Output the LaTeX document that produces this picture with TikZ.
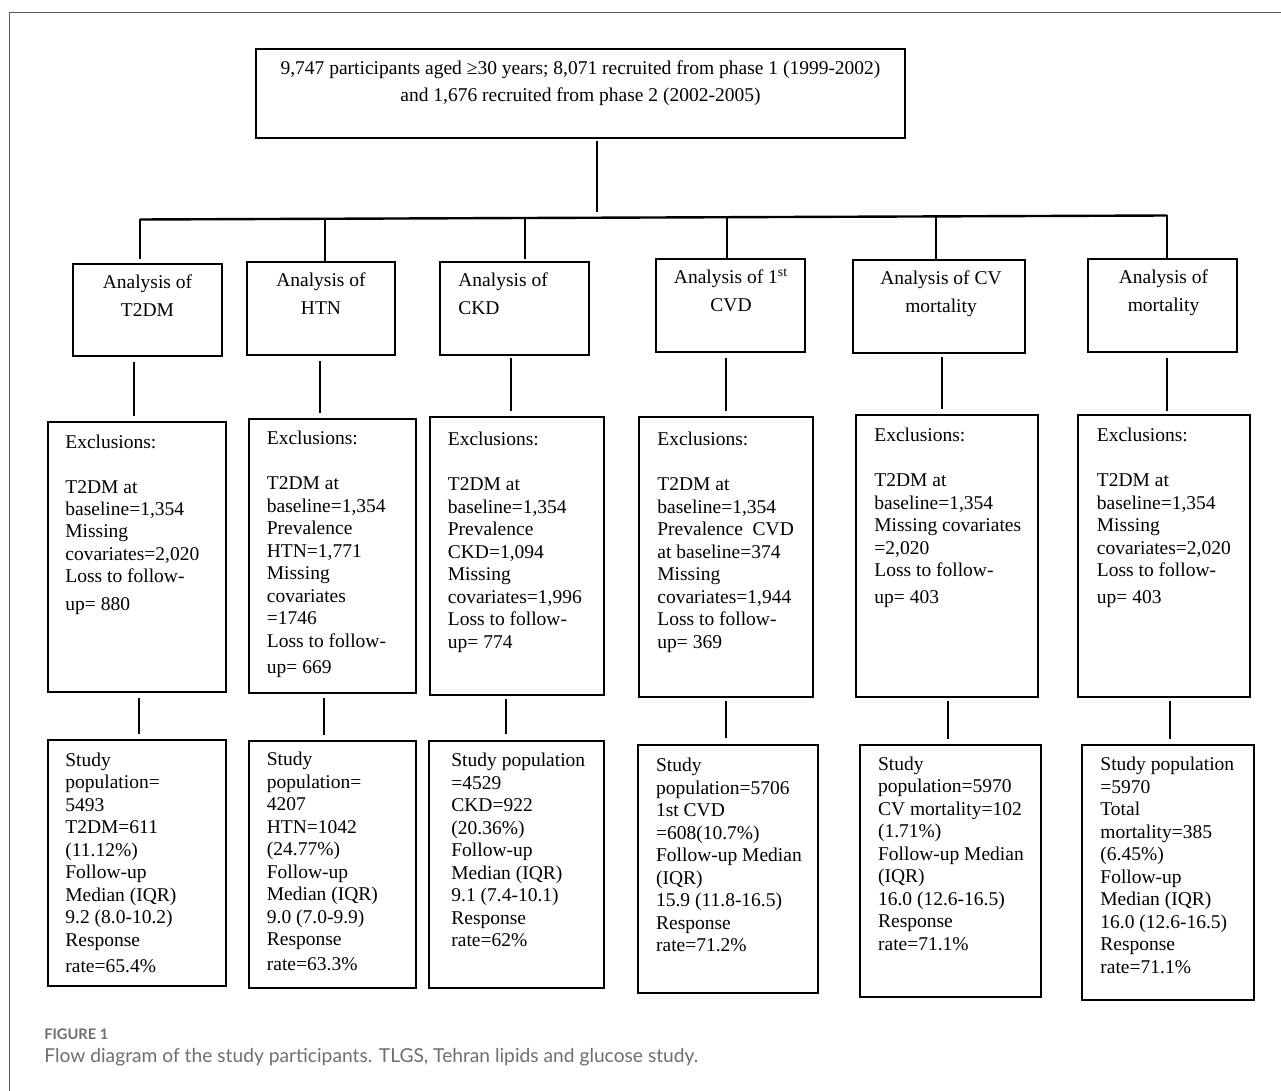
\documentclass[tikz,border=0pt]{standalone}
\usepackage{fontspec}
\setmainfont{Liberation Serif}
\newfontfamily\capfont{Lato}
\usetikzlibrary{fit,calc}
\definecolor{framegray}{HTML}{5A5A5A}
\definecolor{capgray}{HTML}{6E6E6E}
\begin{document}
\begin{tikzpicture}[x=0.5pt, y=-0.5pt,
  box/.style={draw=black, line width=1pt, inner sep=0pt},
  link/.style={draw=black, line width=0.8pt},
  body/.style={inner sep=0pt, font=\fontsize{9.75}{11.25}\selectfont, align=left, anchor=base west},
  head/.style={inner sep=0pt, font=\fontsize{9.75}{14}\selectfont, align=center, anchor=base},
  headL/.style={inner sep=0pt, font=\fontsize{9.75}{14}\selectfont, align=left, anchor=base west},
]
\useasboundingbox (0,0) rectangle (1281,1091);
% frame
\draw[framegray, line width=0.9pt] (1281,12.5) -- (9.5,12.5) -- (9.5,1091);

% top box (text anchors are the baseline of the last line)
\node[box, fit={(256,49) (905,138)}] (T) {};
\node[inner sep=0pt, font=\fontsize{9.75}{13.35}\selectfont, align=center, anchor=base] (Tt) at (580.5,101.7)
  {9,747 participants aged ≥30 years; 8,071 recruited from phase 1 (1999-2002)\\and 1,676 recruited from phase 2 (2002-2005)};

% bus
\coordinate (busL) at (140,219.5);
\coordinate (busR) at (1167,215.5);
\draw[black, line width=1.2pt] (busL) -- (busR);
\coordinate (d0) at ($(busL)!0.445!(busR)$);
\coordinate (d1) at ($(busL)!0!(busR)$);
\coordinate (d2) at ($(busL)!0.180!(busR)$);
\coordinate (d3) at ($(busL)!0.375!(busR)$);
\coordinate (d4) at ($(busL)!0.5716!(busR)$);
\coordinate (d5) at ($(busL)!0.775!(busR)$);
\coordinate (d6) at ($(busL)!1!(busR)$);
\draw[link, shorten <=1pt, shorten >=3pt] (T.south -| d0) -- (d0);

% analysis boxes
\node[box, fit={(73,264) (222,356)}] (A1) {};
\node[box, fit={(247,262) (395,355)}] (A2) {};
\node[box, fit={(440,262) (589,355)}] (A3) {};
\node[box, fit={(656,259) (805,352)}] (A4) {};
\node[box, fit={(853,260) (1025,353)}] (A5) {};
\node[box, fit={(1088,259) (1237,352)}] (A6) {};
\node[head] (A1t) at (147.5,317) {Analysis of\\T2DM};
\node[head] (A2t) at (321,315) {Analysis of\\HTN};
\node[headL] (A3t) at (458,315) {Analysis of\\CKD};
\node[head] (A4t) at (731,312) {Analysis of 1\textsuperscript{st}\\CVD};
\node[head] (A5t) at (941,312.7) {Analysis of CV\\mortality};
\node[head] (A6t) at (1163.5,312) {Analysis of\\mortality};

\draw[link, shorten >=2pt] (d1) -- (A1.north -| d1);
\draw[link] (d2) -- (A2.north -| d2);
\draw[link, shorten >=1pt] (d3) -- (A3.north -| d3);
\draw[link] (d4) -- (A4.north -| d4);
\draw[link] (d5) -- (A5.north -| d5);
\draw[link] (d6) -- (A6.north -| d6);

% exclusion boxes
\node[box, fit={(48,422) (226,692)}] (E1) {};
\node[box, fit={(249,419) (416,693)}] (E2) {};
\node[box, fit={(430,417) (604,695)}] (E3) {};
\node[box, fit={(639,417) (813,697)}] (E4) {};
\node[box, fit={(856,415) (1038,697)}] (E5) {};
\node[box, fit={(1078,415) (1250,697)}] (E6) {};

\node[body] (E1t) at (65,610) {Exclusions:\\[11.25pt]T2DM at\\baseline=1,354\\Missing\\covariates=2,020\\Loss to follow-\\[2.25pt]up= 880};
\node[body] (E2t) at (266.5,673) {Exclusions:\\[11.25pt]T2DM at\\baseline=1,354\\Prevalence\\HTN=1,771\\Missing\\covariates\\=1746\\Loss to follow-\\[1.75pt]up= 669};
\node[body] (E3t) at (447.5,648) {Exclusions:\\[11.25pt]T2DM at\\baseline=1,354\\Prevalence\\CKD=1,094\\Missing\\covariates=1,996\\Loss to follow-\\up= 774};
\node[body] (E4t) at (657,648) {Exclusions:\\[11.25pt]T2DM at\\baseline=1,354\\Prevalence\ \ CVD\\at baseline=374\\Missing\\covariates=1,944\\Loss to follow-\\up= 369};
\node[body] (E5t) at (874,603) {Exclusions:\\[11.25pt]T2DM at\\baseline=1,354\\Missing covariates\\=2,020\\Loss to follow-\\[2pt]up= 403};
\node[body] (E6t) at (1096.5,603) {Exclusions:\\[11.25pt]T2DM at\\baseline=1,354\\Missing\\covariates=2,020\\Loss to follow-\\[2pt]up= 403};

\draw[link, shorten <=2.5pt, shorten >=2.5pt] (A1.south -| 134,0) -- (E1.north -| 134,0);
\draw[link, shorten <=2.5pt, shorten >=2.5pt] (A2.south -| 320,0) -- (E2.north -| 320,0);
\draw[link, shorten <=1pt, shorten >=2.5pt] (A3.south -| 511,0) -- (E3.north -| 511,0);
\draw[link, shorten <=2.5pt, shorten >=2.5pt] (A4.south -| 726,0) -- (E4.north -| 726,0);
\draw[link, shorten <=1.5pt, shorten >=2.5pt] (A5.south -| 942,0) -- (E5.north -| 942,0);
\draw[link, shorten <=2.5pt, shorten >=1.5pt] (A6.south -| 1167,0) -- (E6.north -| 1167,0);

% study boxes
\node[box, fit={(48,740) (226,986)}] (S1) {};
\node[box, fit={(249,741) (416,988)}] (S2) {};
\node[box, fit={(429,741) (604,988)}] (S3) {};
\node[box, fit={(638,745) (818,993)}] (S4) {};
\node[box, fit={(860,745) (1041,997)}] (S5) {};
\node[box, fit={(1082,745) (1254,1000)}] (S6) {};

\node[body] (S1t) at (65,972.7) {Study\\population=\\5493\\T2DM=611\\(11.12\%)\\Follow-up\\Median (IQR)\\9.2 (8.0-10.2)\\Response\\[2pt]rate=65.4\%};
\node[body] (S2t) at (266.5,970) {Study\\population=\\4207\\HTN=1042\\(24.77\%)\\Follow-up\\Median (IQR)\\9.0 (7.0-9.9)\\Response\\[1pt]rate=63.3\%};
\node[body] (S3t) at (451,946.7) {Study population\\=4529\\CKD=922\\(20.36\%)\\Follow-up\\Median (IQR)\\9.1 (7.4-10.1)\\Response\\rate=62\%};
\node[body] (S4t) at (655.7,951.7) {Study\\population=5706\\1st CVD\\=608(10.7\%)\\Follow-up Median\\(IQR)\\15.9 (11.8-16.5)\\Response\\rate=71.2\%};
\node[body] (S5t) at (877.7,950) {Study\\population=5970\\CV mortality=102\\(1.71\%)\\Follow-up Median\\(IQR)\\16.0 (12.6-16.5)\\Response\\rate=71.1\%};
\node[body] (S6t) at (1100,973) {Study population\\=5970\\Total\\mortality=385\\(6.45\%)\\Follow-up\\Median (IQR)\\16.0 (12.6-16.5)\\Response\\rate=71.1\%};

\draw[link, shorten <=2.5pt, shorten >=2.5pt] (E1.south -| 139,0) -- (S1.north -| 139,0);
\draw[link, shorten <=2pt, shorten >=2.5pt] (E2.south -| 324,0) -- (S2.north -| 324,0);
\draw[link, shorten <=1.5pt, shorten >=3pt] (E3.south -| 506,0) -- (S3.north -| 506,0);
\draw[link, shorten <=1.5pt, shorten >=3pt] (E4.south -| 726,0) -- (S4.north -| 726,0);
\draw[link, shorten <=1.5pt, shorten >=2.5pt] (E5.south -| 948,0) -- (S5.north -| 948,0);
\draw[link, shorten <=1.5pt, shorten >=2.5pt] (E6.south -| 1170,0) -- (S6.north -| 1170,0);

% caption
\node[anchor=base west, inner sep=0pt, text=capgray, font=\capfont\bfseries\fontsize{7.3}{9}\selectfont] (figlabel) at (44,1039) {FIGURE 1};
\node[anchor=base west, inner sep=0pt, text=capgray, font=\capfont\fontsize{9.6}{11}\selectfont] (figcap) at (44,1062) {Flow diagram of the study participants. TLGS, Tehran lipids and glucose study.};
\end{tikzpicture}
\end{document}
